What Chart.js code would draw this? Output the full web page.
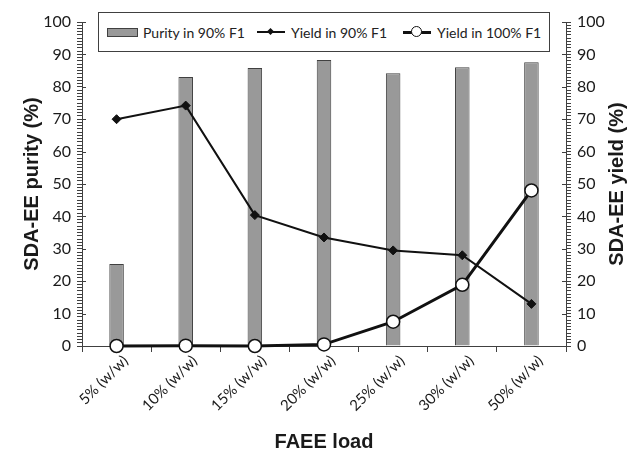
<!DOCTYPE html>
<html>
<head>
<meta charset="utf-8">
<script src="https://cdn.jsdelivr.net/npm/chart.js@4/dist/chart.umd.min.js"></script>
<style>
  html, body { margin: 0; padding: 0; background: #fff; }
  .wrap { position: relative; width: 631px; height: 453px; }
  .legend {
    position: absolute; left: 98px; top: 12px; width: 450px; height: 38px;
    border: 1px solid #404040; background: #fff;
    font: 14px Lato, sans-serif; color: #222;
  }
  .item { position: absolute; top: 0; height: 38px; display: flex; align-items: center; }
  .bar-sw { width: 29px; height: 7px; background: #999; border: 1px solid #404040; margin-right: 5px; }
  .line-sw { position: relative; width: 28px; height: 12px; margin-right: 6px; }
  .line-sw .ln { position: absolute; left: 0; right: 0; top: 5px; height: 2px; background: #111; }
  .line-sw .dm { position: absolute; left: 11px; top: 3px; width: 5px; height: 5px; background: #111; transform: rotate(45deg); }
  .line-sw.thick .ln { top: 4.5px; height: 3px; }
  .line-sw .ci { position: absolute; left: 8px; top: 0px; width: 9px; height: 9px; border: 1.5px solid #111; border-radius: 50%; background: #fff; }
</style>
</head>
<body>
<div class="wrap">
  <canvas id="c" width="631" height="453"></canvas>
  <div class="legend">
    <div class="item" style="left:8px"><span class="bar-sw"></span>Purity in 90% F1</div>
    <div class="item" style="left:158px"><span class="line-sw"><span class="ln"></span><span class="dm"></span></span>Yield in 90% F1</div>
    <div class="item" style="left:304px"><span class="line-sw thick"><span class="ln"></span><span class="ci"></span></span>Yield in 100% F1</div>
  </div>
</div>
<script>
const categories = ['5% (w/w)', '10% (w/w)', '15% (w/w)', '20% (w/w)', '25% (w/w)', '30% (w/w)', '50% (w/w)'];
const purity90 = [25.3, 83.0, 85.8, 88.3, 84.2, 86.0, 87.6];
const yield90 = [70.0, 74.2, 40.4, 33.5, 29.5, 28.0, 13.0];
const yield100 = [0.0, 0.1, 0.0, 0.5, 7.5, 18.9, 48.0];
const yTicks = [0, 10, 20, 30, 40, 50, 60, 70, 80, 90, 100];

const axisColor = '#404040';
const textColor = '#1a1a1a';

// major ticks cross the axis line, right title reads bottom-to-top
const axisExtras = {
  id: 'axisExtras',
  afterDraw(chart) {
    const ctx = chart.ctx;
    const y = chart.scales.y, y1 = chart.scales.y1;
    const a = chart.chartArea;
    ctx.save();
    ctx.strokeStyle = axisColor;
    ctx.lineWidth = 1;
    yTicks.forEach(v => {
      const py = Math.round(y.getPixelForValue(v)) + 0.5;
      ctx.beginPath();
      ctx.moveTo(a.left, py); ctx.lineTo(a.left + 4, py);
      const py1 = Math.round(y1.getPixelForValue(v)) + 0.5;
      ctx.moveTo(a.right - 4, py1); ctx.lineTo(a.right, py1);
      ctx.stroke();
    });
    ctx.translate(617, (a.top + a.bottom) / 2);
    ctx.rotate(-Math.PI / 2);
    ctx.fillStyle = textColor;
    ctx.font = 'bold 20px "Liberation Sans", Arial, sans-serif';
    ctx.textAlign = 'center';
    ctx.textBaseline = 'middle';
    ctx.fillText('SDA-EE yield (%)', 0, 0);
    ctx.restore();
  }
};

const minorY = () => ({
  min: 0, max: 100,
  ticks: {
    stepSize: 1, autoSkip: false, padding: 6, color: textColor,
    font: { family: 'Lato', size: 16 },
    callback: v => (v % 10 === 0 ? v : '')
  },
  grid: { drawOnChartArea: false, tickLength: 5, color: axisColor },
  border: { color: axisColor }
});

const yLeft = minorY();
yLeft.position = 'left';
yLeft.title = {
  display: true, text: 'SDA-EE purity (%)', color: textColor,
  font: { family: 'Liberation Sans', size: 20, weight: 'bold', lineHeight: 1.2 },
  padding: { top: 20, bottom: 0 }
};
yLeft.afterFit = s => { s.width = 82; };

const yRight = minorY();
yRight.position = 'right';
yRight.afterFit = s => { s.width = 65; };

new Chart(document.getElementById('c'), {
  data: {
    labels: categories,
    datasets: [
      {
        type: 'line', label: 'Yield in 100% F1', data: yield100, yAxisID: 'y1', order: 0,
        borderColor: '#111', borderWidth: 3, pointStyle: 'circle', pointRadius: 6.5,
        pointBackgroundColor: '#fff', pointBorderColor: '#111', pointBorderWidth: 1.5,
        tension: 0, clip: false
      },
      {
        type: 'line', label: 'Yield in 90% F1', data: yield90, yAxisID: 'y1', order: 1,
        borderColor: '#111', borderWidth: 2, pointStyle: 'rectRot', pointRadius: 4.5,
        pointBackgroundColor: '#111', pointBorderColor: '#111', pointBorderWidth: 1,
        tension: 0, clip: false
      },
      {
        type: 'bar', label: 'Purity in 90% F1', data: purity90, yAxisID: 'y', order: 2,
        backgroundColor: '#999999', borderColor: '#404040', borderWidth: 1,
        barPercentage: 0.21, categoryPercentage: 1
      }
    ]
  },
  plugins: [axisExtras],
  options: {
    responsive: false,
    animation: false,
    layout: { padding: { top: 22, left: 0, right: 0, bottom: 0 } },
    plugins: { legend: { display: false }, tooltip: { enabled: false } },
    scales: {
      x: {
        offset: true,
        grid: { offset: true, drawOnChartArea: false, tickLength: 6, color: axisColor },
        border: { color: axisColor },
        ticks: {
          color: textColor, minRotation: 45, maxRotation: 45, padding: 0, labelOffset: 9,
          font: { family: 'Lato', size: 15 }
        },
        title: {
          display: true, text: 'FAEE load', color: textColor,
          font: { family: 'Liberation Sans', size: 20, weight: 'bold', lineHeight: 1 },
          padding: { top: 0, bottom: 1 }
        },
        afterFit: s => { s.height = 107; }
      },
      y: yLeft,
      y1: yRight
    }
  }
});
</script>
</body>
</html>
